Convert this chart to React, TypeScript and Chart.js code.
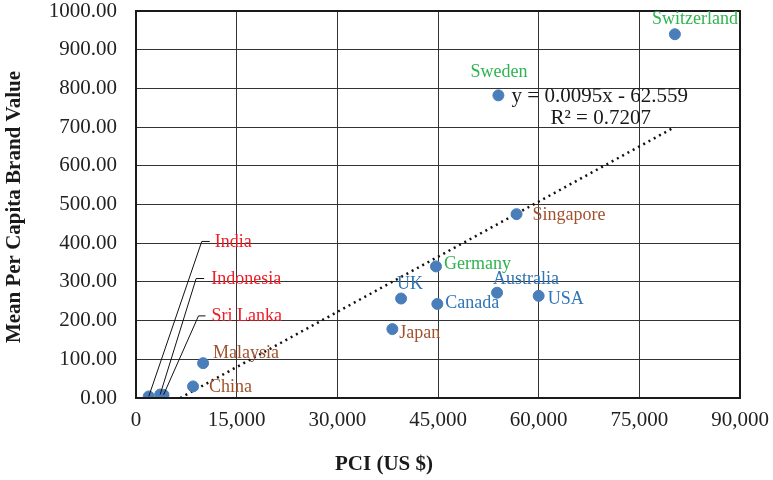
import React, { useEffect, useRef } from "react";
import { Chart, registerables } from "chart.js";

Chart.register(...registerables);

// ---- data ----
const countries = ["Switzerland", "Sweden", "Singapore", "Germany", "UK", "Canada", "Australia", "USA", "Japan", "Malaysia", "China", "India", "Indonesia", "Sri Lanka"];
const pci = [80300, 54000, 56700, 44700, 39500, 44900, 53800, 60000, 38200, 10000, 8500, 1900, 3600, 4100];
const brandValue = [940, 782, 475, 340, 257, 243, 272, 264, 178, 90, 30, 4, 9, 8];
const groups = ["g", "g", "b", "g", "u", "u", "u", "u", "b", "b", "b", "r", "r", "r"];
const trendSlope = 0.0095;
const trendIntercept = -62.559;
const rSquared = 0.7207;
const xTicks = [0, 15000, 30000, 45000, 60000, 75000, 90000];
const yTicks = [0, 100, 200, 300, 400, 500, 600, 700, 800, 900, 1000];

// ---- style ----
const FONT = '"Liberation Serif", "Times New Roman", serif';
const groupColors: Record<string, string> = { g: "#2fb350", b: "#a0522d", u: "#2e75b6", r: "#ee1c25" };
const labelOffsets: Record<string, [number, number]> = {
  Switzerland: [-23, -15], Sweden: [-28, -23], Singapore: [16, 1], Germany: [8, -2], UK: [-4, -14],
  Canada: [8, -1], Australia: [-4, -13], USA: [9, 3], Japan: [7, 4], Malaysia: [10, -10], China: [16, 1],
  India: [66, -154], Indonesia: [51, -115], "Sri Lanka": [48, -79],
};
const leaders: Record<string, [number, number, number]> = {
  India: [53, 61, -155], Indonesia: [36, 44, -116], "Sri Lanka": [35, 42, -79],
};
const eqAnchor = { x: 69100, y: 780 };

const fmtThousands = (v: number) => v.toLocaleString("en-US");
const zeroPad = (s: any) => { s.paddingTop = 0; s.paddingBottom = 0; s.paddingLeft = 0; s.paddingRight = 0; };

export default function App() {
  const ref = useRef<HTMLCanvasElement | null>(null);
  useEffect(() => {
    if (!ref.current) return;
    const xMaxData = Math.max(...pci);
    const xStart = -trendIntercept / trendSlope;
    const trend = [
      { x: xStart, y: trendSlope * xStart + trendIntercept },
      { x: xMaxData, y: trendSlope * xMaxData + trendIntercept },
    ];
    const overlay = {
      id: "overlay",
      afterDatasetsDraw(chart: any) {
        const { ctx, chartArea: a, scales } = chart;
        const xs = scales.x, ys = scales.y;
        ctx.save();
        // border
        ctx.strokeStyle = "#1a1a1a";
        ctx.lineWidth = 2;
        ctx.strokeRect(a.left, a.top, a.right - a.left, a.bottom - a.top);
        // labels
        ctx.font = `18px ${FONT}`;
        ctx.textBaseline = "middle";
        ctx.textAlign = "left";
        countries.forEach((c, i) => {
          const px = xs.getPixelForValue(pci[i]);
          const py = ys.getPixelForValue(brandValue[i]);
          const l = leaders[c];
          if (l) {
            ctx.strokeStyle = "#111";
            ctx.lineWidth = 1;
            ctx.beginPath();
            ctx.moveTo(px, py);
            ctx.lineTo(px + l[0], py + l[2]);
            ctx.lineTo(px + l[1], py + l[2]);
            ctx.stroke();
          }
          const off = labelOffsets[c] || [8, 0];
          ctx.fillStyle = groupColors[groups[i]];
          ctx.fillText(c, px + off[0], py + off[1]);
        });
        // equation
        const ex = xs.getPixelForValue(eqAnchor.x);
        const ey = ys.getPixelForValue(eqAnchor.y);
        ctx.fillStyle = "#1a1a1a";
        ctx.font = `21px ${FONT}`;
        ctx.textAlign = "center";
        ctx.fillText(`y = ${trendSlope}x - ${Math.abs(trendIntercept)}`, ex, ey);
        ctx.fillText(`R² = ${rSquared}`, ex + 1, ey + 22);
        // axis titles
        ctx.font = `bold 21px ${FONT}`;
        ctx.fillText("PCI (US $)", 384, 465);
        ctx.translate(15, 207);
        ctx.rotate(-Math.PI / 2);
        ctx.fillText("Mean Per Capita Brand Value", 0, 0);
        ctx.restore();
      },
    };
    const chart = new Chart(ref.current, {
      type: "scatter",
      data: {
        datasets: [
          {
            label: "countries",
            data: pci.map((x, i) => ({ x, y: brandValue[i] })),
            backgroundColor: "#4a7ebb",
            borderColor: "#4a7ebb",
            pointRadius: 5.5,
            pointHoverRadius: 5.5,
          },
          {
            label: "trend",
            type: "line",
            data: trend,
            borderColor: "#111",
            borderWidth: 2.5,
            borderDash: [2, 4],
            pointRadius: 0,
            fill: false,
          } as any,
        ],
      },
      options: {
        animation: false,
        responsive: false,
        layout: { padding: { top: 11, right: 33, left: 0, bottom: 0 } },
        plugins: { legend: { display: false }, tooltip: { enabled: false } },
        scales: {
          x: {
            type: "linear",
            min: 0,
            max: 90000,
            afterBuildTicks: (s: any) => { s.ticks = xTicks.map((v) => ({ value: v })); },
            afterFit: (s: any) => { s.height = 82; zeroPad(s); },
            ticks: { callback: (v: any) => fmtThousands(Number(v)), font: { family: FONT, size: 21, lineHeight: 1 }, color: "#222", padding: 12, maxRotation: 0 },
            grid: { color: "#333", lineWidth: 1, drawTicks: false },
            border: { color: "#1a1a1a", width: 2 },
          },
          y: {
            type: "linear",
            min: 0,
            max: 1000,
            afterBuildTicks: (s: any) => { s.ticks = yTicks.map((v) => ({ value: v })); },
            afterFit: (s: any) => { s.width = 136; zeroPad(s); },
            ticks: { callback: (v: any) => Number(v).toFixed(2), font: { family: FONT, size: 21, lineHeight: 1 }, color: "#222", padding: 19 },
            grid: { color: "#333", lineWidth: 1, drawTicks: false },
            border: { color: "#1a1a1a", width: 2 },
          },
        },
      },
      plugins: [overlay],
    } as any);
    return () => chart.destroy();
  }, []);
  return (
    <div style={{ position: "absolute", left: 0, top: 0, width: 773, height: 480, background: "#fff" }}>
      <canvas ref={ref} width={773} height={480} style={{ display: "block" }} />
    </div>
  );
}
